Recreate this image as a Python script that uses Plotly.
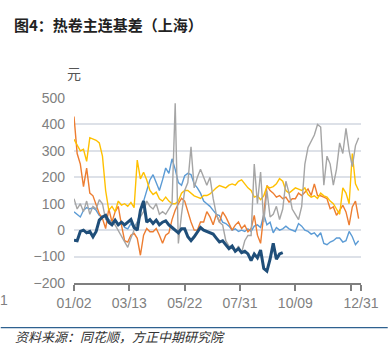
import pandas as pd
import plotly.graph_objects as go

# x categories: one sample every 4 calendar days, 01/02 .. 12/31
dates = pd.date_range("2025-01-02", "2025-12-31", freq="4D")

orange = [430, 290, 250, 165, 235, 140, 130, 95, 62, 44,
          6, 81, 31, 69, 90, 20, -40, -45, -19, -12,
          -31, -95, -19, 6, -6, -6, 6, -19, -50, -19,
          -10, 40, 75, 100, 120, 110, 70, 31, 0, 0,
          31, 31, 70, 50, 20, 60, 30, 69, 50, 25,
          0, 19, 31, 6, 19, -6, 6, 56, -19, -50,
          69, 169, 150, 140, 125, 131, 119, 125, 106, 119,
          119, 140, 131, 144, 156, 131, 175, 131, 130, 125,
          119, 81, 88, 56, 75, 94, 69, 19, 88, 110,
          44, 40]

yellow = [344, 320, 300, 306, 260, 350, 344, 340, 330, 280,
          150, 75, 90, 70, 110, 95, 100, 90, 105, 85,
          265, 194, 219, 190, 150, 135, 144, 119, 110, 125,
          110, 100, 100, 110, 140, 150, 150, 140, 130, 125,
          120, 131, 131, 137, 150, 160, 169, 165, 160, 170,
          175, 170, 185, 190, 175, 160, 150, 125, 130, 115,
          130, 165, 160, 165, 175, 195, 185, 150, 140, 150,
          160, 155, 150, 160, 135, 125, 130, 120, 140, 130,
          125, 110, 100, 80, 60, 160, 140, 100, 290, 175,
          150, 120]

lightblue = [69, 60, 50, 75, 85, 80, 85, 75, 56, 50,
             56, 40, 30, 40, 20, 30, 10, 5, 25, 10,
             30, 69, 110, 150, 190, 210, 180, 150, 190, 235,
             215, 270, 230, 180, 170, 206, 215, 210, 175, 160,
             140, 110, 100, 90, 75, 60, 55, 30, 25, 15,
             0, 5, -5, 0, -5, 5, -5, 15, 20, 10,
             60, 20, 30, -10, 10, 0, 5, 15, 5, 0,
             -5, 25, 15, 0, -5, -15, -10, -25, -10, -50,
             -55, -45, -40, -30, -30, -45, -40, -5, -25, -55,
             -40, -40]

gray = [119, 80, 100, 70, 110, 60, 90, 80, 115, 100,
        40, 35, 30, 20, 0, -20, -40, -65, -30, 0,
        30, 50, 70, 110, 90, 80, 100, 60, 70, 60,
        80, 100, 480, -50, 60, 150, 180, 315, 160, 200,
        230, 200, 170, 200, 120, 60, 30, 20, -40, -60,
        -70, -80, -60, -85, -40, -20, -20, 250, 100, 220,
        30, 150, 50, 60, 90, 40, 80, 185, 140, 80,
        60, 40, 90, 250, 313, 338, 360, 400, 390, 170,
        280, 250, 170, 230, 330, 290, 385, 300, 240, 320,
        350, 435]

navy = [-38, -40, -5, 0, -10, -5, -25, -5, 38, 50,
        56, 30, 20, 38, 20, 30, 20, 30, 40, 10,
        0, 75, 110, 30, 40, 25, 38, 20, 30, 35,
        20, 10, 0, -10, 5, 5, -25, -40, -25, -5,
        10, 0, -5, -10, -15, -30, -45, -40, -55, -70,
        -60, -80, -70, -85, -80, -90, -115, -90, -105, -75,
        -145, -155, -110, -50, -110, -90, -85]

tick_vals = ["2025-01-02", "2025-03-13", "2025-05-22", "2025-07-31",
             "2025-10-09", "2025-12-18", "2025-12-31"]
tick_text = ["01/02", "03/13", "05/22", "07/31", "10/09", "", "12/31"]
y_ticks = [-200, -100, 0, 100, 200, 300, 400, 500]

series = [
    ("lightblue", lightblue, "#5b9bd5", 1.4),
    ("orange", orange, "#ed7d31", 1.4),
    ("yellow", yellow, "#ffc000", 1.4),
    ("gray", gray, "#a5a5a5", 1.4),
    ("navy", navy, "#1f4e79", 3.0),
]

fig = go.Figure()
for name, vals, color, w in series:
    fig.add_trace(go.Scatter(x=dates[:len(vals)], y=vals, mode="lines", name=name,
                             line=dict(color=color, width=w), showlegend=False))

L, R, T, B = 74, 364, 98.3, 283.3
PW, PH = R - L, B - T

def px(x):
    return (x - L) / PW

def py(y):
    return (B - y) / PH

fig.update_layout(
    width=391, height=356,
    margin=dict(l=L, r=391 - R, t=T, b=356 - B),
    paper_bgcolor="white", plot_bgcolor="white",
    font=dict(family="Liberation Sans, Arial, sans-serif"),
    xaxis=dict(type="date", range=["2025-01-02", "2025-12-31"],
               tickvals=tick_vals, ticktext=tick_text,
               ticks="outside", ticklen=6, tickwidth=1.5, tickcolor="#7f7f7f",
               showline=True, linecolor="#7f7f7f", linewidth=1.5,
               showgrid=False, zeroline=False,
               tickfont=dict(size=14, color="#808080")),
    yaxis=dict(range=[-200, 500], tickvals=y_ticks,
               showgrid=True, gridcolor="#dde1e8", gridwidth=1.5,
               zeroline=False, showline=False, ticks="",
               ticklabelstandoff=8,
               tickfont=dict(size=14, color="#808080")),
    annotations=[
        dict(text="<b>图4：热卷主连基差（上海）</b>", xref="paper", yref="paper",
             x=px(11), y=py(25), xanchor="left", yanchor="middle", showarrow=False,
             font=dict(family="Noto Sans CJK SC", size=15, color="#222222")),
        dict(text="元", xref="paper", yref="paper", x=px(74), y=py(73),
             xanchor="center", yanchor="middle", showarrow=False,
             font=dict(family="Noto Sans CJK SC", size=14, color="#555555")),
        dict(text="1", xref="paper", yref="paper", x=px(-3), y=py(300),
             xanchor="left", yanchor="middle", showarrow=False,
             font=dict(size=14, color="#808080")),
        dict(text="<i>资料来源：同花顺，方正中期研究院</i>", xref="paper", yref="paper",
             x=px(12), y=py(337), xanchor="left", yanchor="middle", showarrow=False,
             font=dict(family="Noto Sans CJK SC", size=13, color="#333333")),
    ],
    shapes=[
        dict(type="line", xref="paper", yref="paper", x0=px(0), x1=px(391),
             y0=py(328), y1=py(328), line=dict(color="#2e6190", width=1.2)),
    ],
)

fig.write_html("out.html", config={"displayModeBar": False},
               post_script="document.body.style.margin='0';document.body.style.overflow='hidden';")
